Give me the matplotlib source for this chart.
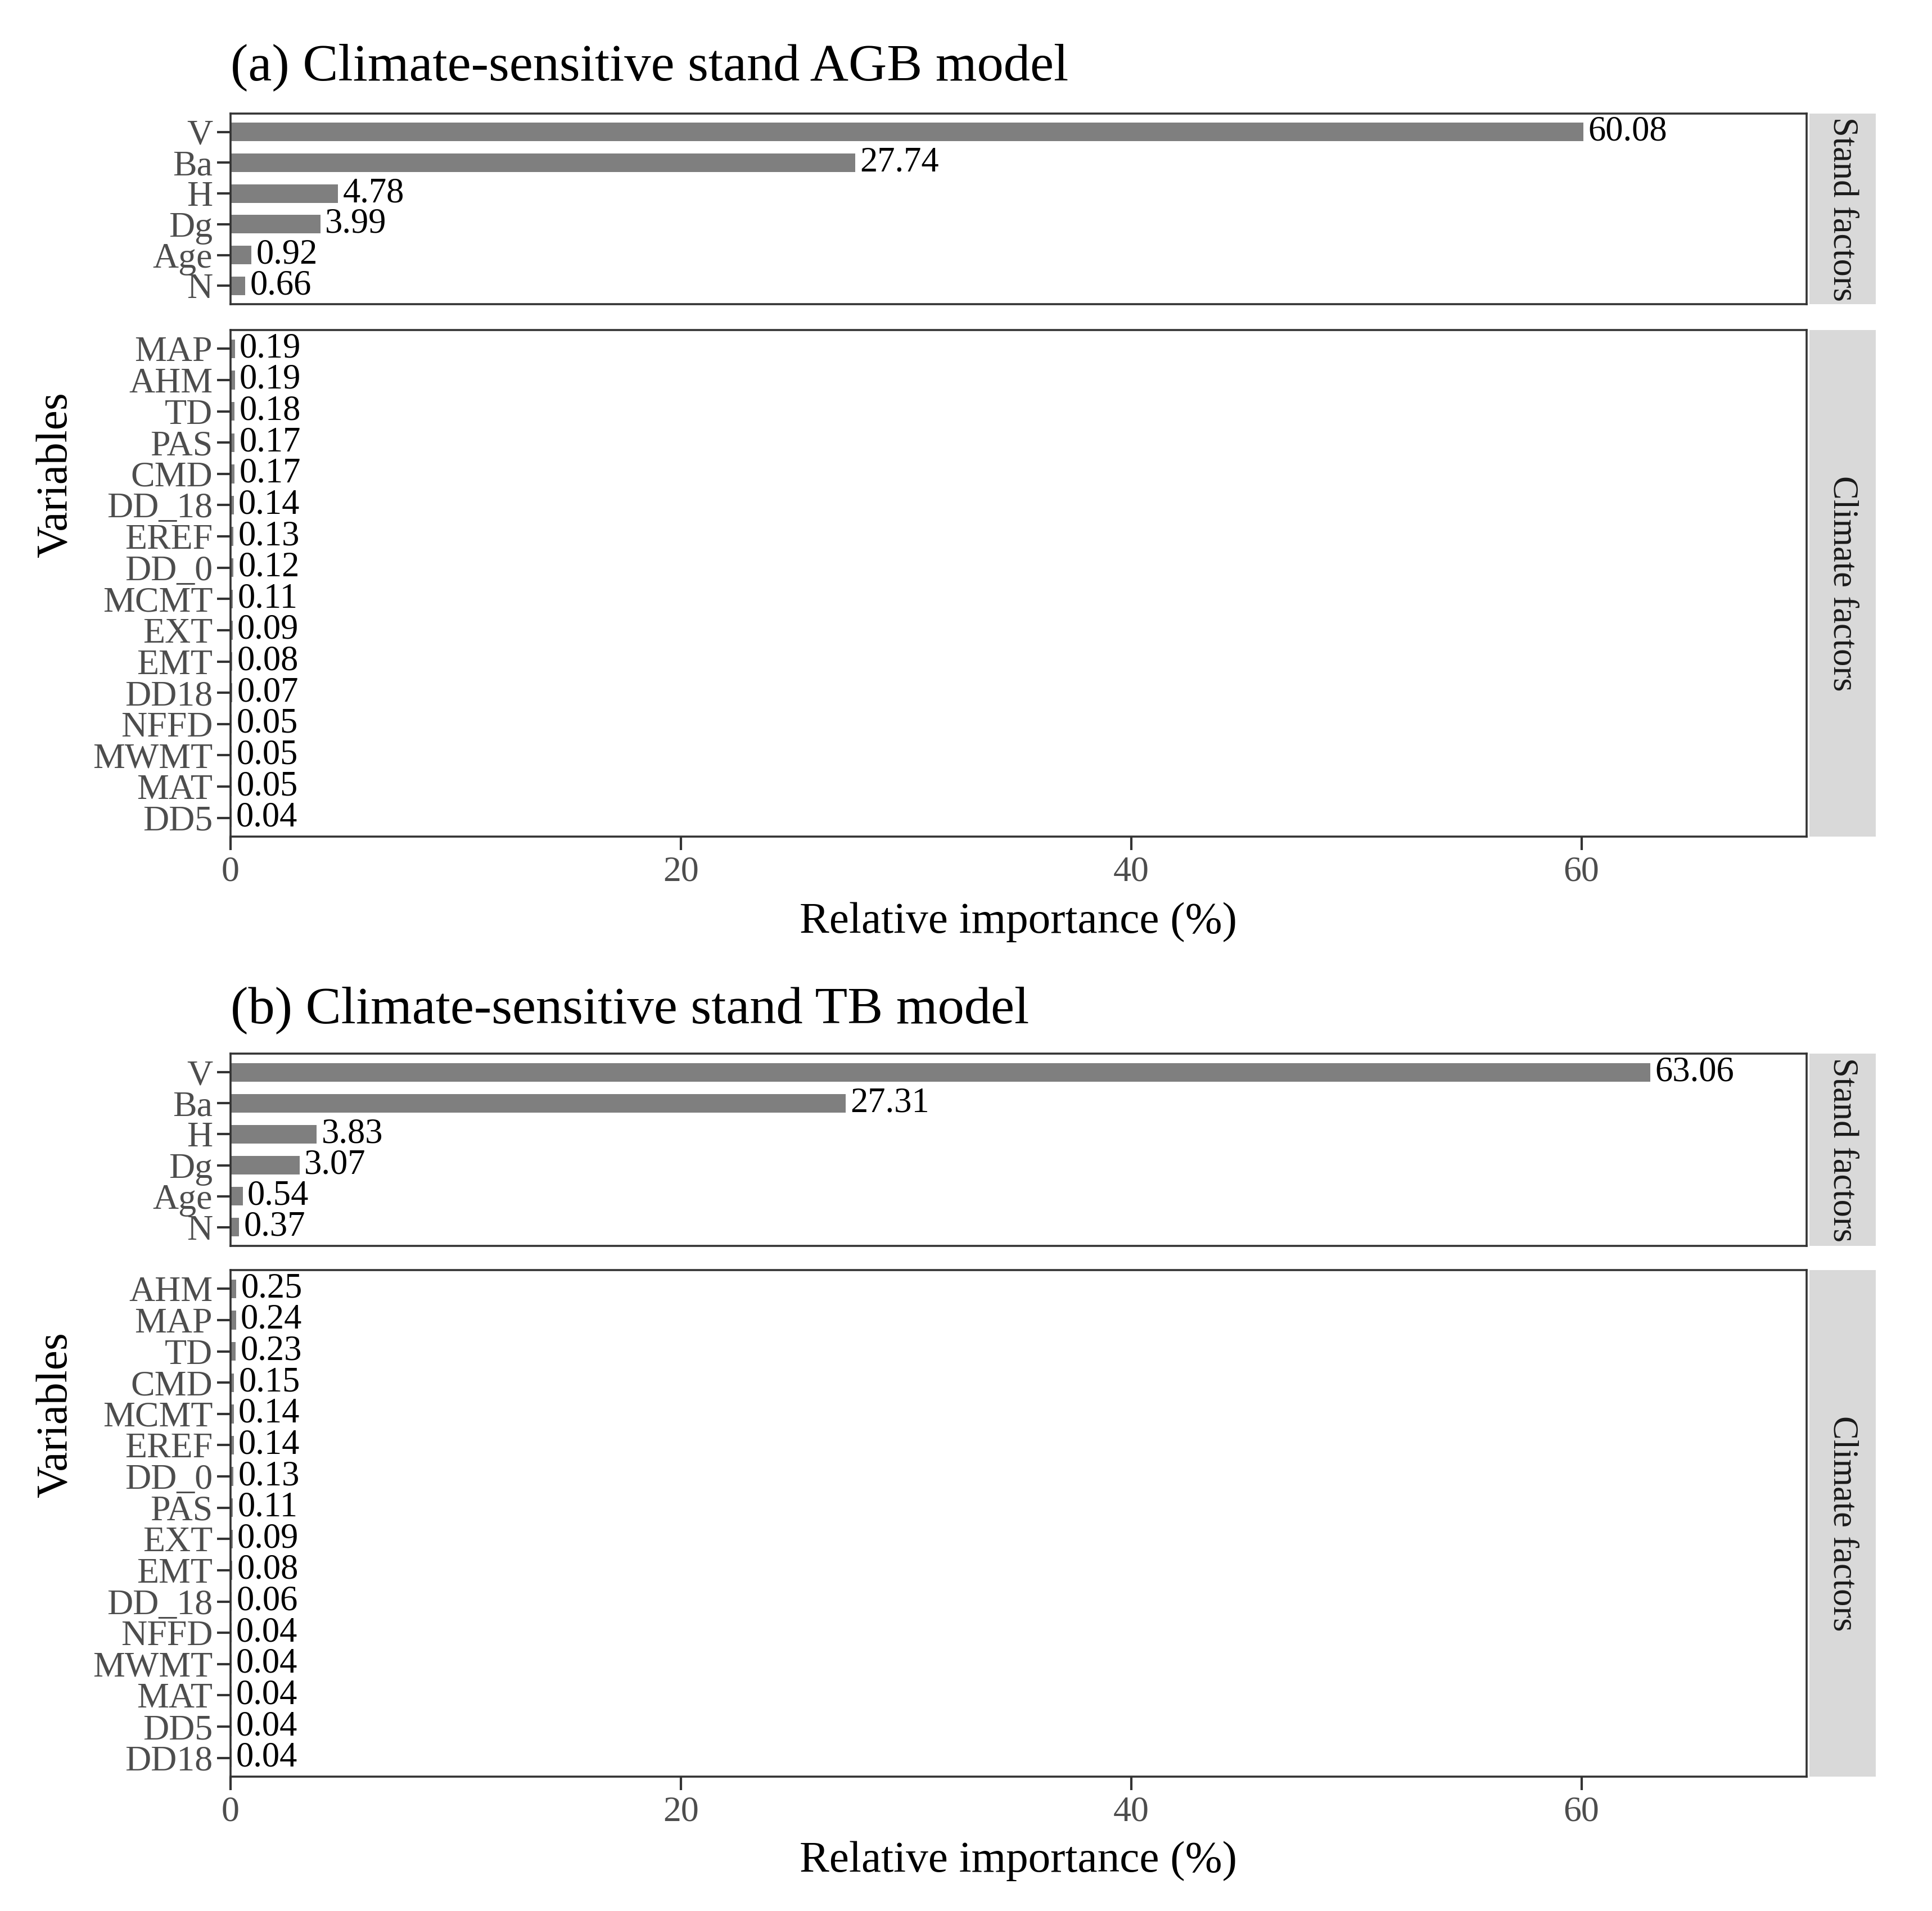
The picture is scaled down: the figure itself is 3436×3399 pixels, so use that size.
import matplotlib
matplotlib.use("Agg")
import matplotlib.pyplot as plt

plt.rcParams['font.family'] = ['Liberation Serif', 'DejaVu Serif']

# ---------------- data ----------------
stand_vars_a = ["V", "Ba", "H", "Dg", "Age", "N"]
stand_vals_a = [60.08, 27.74, 4.78, 3.99, 0.92, 0.66]
clim_vars_a = ["MAP", "AHM", "TD", "PAS", "CMD", "DD_18", "EREF", "DD_0",
               "MCMT", "EXT", "EMT", "DD18", "NFFD", "MWMT", "MAT", "DD5"]
clim_vals_a = [0.19, 0.19, 0.18, 0.17, 0.17, 0.14, 0.13, 0.12,
               0.11, 0.09, 0.08, 0.07, 0.05, 0.05, 0.05, 0.04]

stand_vars_b = ["V", "Ba", "H", "Dg", "Age", "N"]
stand_vals_b = [63.06, 27.31, 3.83, 3.07, 0.54, 0.37]
clim_vars_b = ["AHM", "MAP", "TD", "CMD", "MCMT", "EREF", "DD_0", "PAS",
               "EXT", "EMT", "DD_18", "NFFD", "MWMT", "MAT", "DD5", "DD18"]
clim_vals_b = [0.25, 0.24, 0.23, 0.15, 0.14, 0.14, 0.13, 0.11,
               0.09, 0.08, 0.06, 0.04, 0.04, 0.04, 0.04, 0.04]

titles = ["(a) Climate-sensitive stand AGB model",
          "(b) Climate-sensitive stand TB model"]
strip_labels = ["Stand factors", "Climate factors"]
x_ticks = [0, 20, 40, 60]
x_label = "Relative importance (%)"
y_label = "Variables"

# ---------------- style ----------------
W, H = 3437, 3399
DPI = 100
BAR = "#7F7F7F"
TICKCOL = "#4D4D4D"
BORDER = "#333333"
STRIP = "#D9D9D9"
FS_TICK = 46
FS_VAL = 45
FS_TITLE = 68
FS_AXT = 57
FS_STRIP = 45
TICK_LEN = 17
TICK_W = 3.0

fig = plt.figure(figsize=(W / DPI, H / DPI), dpi=DPI)


def rect(x0, x1, ytop, ybot):
    return [x0 / W, 1 - ybot / H, (x1 - x0) / W, (ybot - ytop) / H]


def panel(ytop, ybot, cats, vals, strip_text, show_x):
    ax = fig.add_axes(rect(410, 3213, ytop, ybot))
    pos = list(range(len(cats)))
    ax.barh(pos, vals, height=0.6, color=BAR, zorder=2)
    for p, v in zip(pos, vals):
        ax.annotate(f"{v:.2f}", xy=(v, p), xytext=(6, 0),
                    textcoords="offset points", ha="left", va="center",
                    fontsize=FS_VAL, color="black", zorder=3)
    ax.set_ylim(len(cats) - 0.4, -0.6)
    ax.set_xlim(0, 70)
    ax.set_yticks(pos)
    ax.set_yticklabels(cats)
    ax.set_xticks(x_ticks)
    ax.tick_params(axis="y", labelsize=FS_TICK, labelcolor=TICKCOL,
                   length=TICK_LEN, width=TICK_W, color=BORDER, pad=6)
    ax.tick_params(axis="x", labelsize=FS_TICK, labelcolor=TICKCOL,
                   length=TICK_LEN, width=TICK_W, color=BORDER, pad=8,
                   labelbottom=show_x, bottom=show_x)
    for s in ax.spines.values():
        s.set_color(BORDER)
        s.set_linewidth(2.6)
    # strip
    sax = fig.add_axes(rect(3218, 3336, ytop, ybot))
    sax.set_facecolor(STRIP)
    for s in sax.spines.values():
        s.set_visible(False)
    sax.set_xticks([])
    sax.set_yticks([])
    sax.text(0.5, 0.5, strip_text, rotation=-90, ha="center", va="center",
             fontsize=FS_STRIP, color="#1A1A1A", transform=sax.transAxes)
    return ax


layouts = [
    dict(title_y=142, st=(202, 541), cl=(587, 1488), xl_y=1640, var_y=(202 + 1488) / 2,
         sv=stand_vars_a, sval=stand_vals_a, cv=clim_vars_a, cval=clim_vals_a),
    dict(title_y=1819, st=(1874, 2216), cl=(2259, 3160), xl_y=3310, var_y=(1874 + 3160) / 2,
         sv=stand_vars_b, sval=stand_vals_b, cv=clim_vars_b, cval=clim_vals_b),
]

for title, L in zip(titles, layouts):
    panel(L["st"][0], L["st"][1], L["sv"], L["sval"], strip_labels[0], False)
    panel(L["cl"][0], L["cl"][1], L["cv"], L["cval"], strip_labels[1], True)
    fig.text(410 / W, 1 - L["title_y"] / H, title, fontsize=FS_TITLE,
             ha="left", va="baseline", color="black")
    fig.text((410 + 3213) / 2 / W, 1 - L["xl_y"] / H, x_label, fontsize=FS_AXT,
             ha="center", va="center", color="black")
    fig.text(100 / W, 1 - L["var_y"] / H, y_label, fontsize=FS_AXT, rotation=90,
             ha="center", va="center", color="black")

fig.savefig("out.png", dpi=DPI, facecolor="white")
